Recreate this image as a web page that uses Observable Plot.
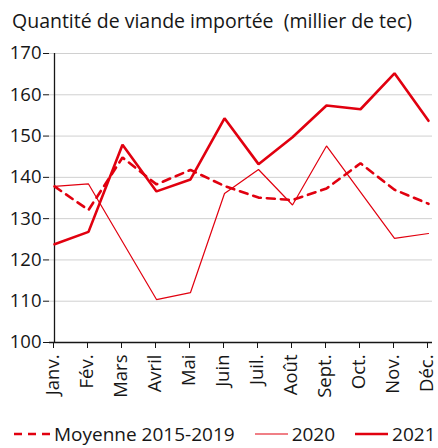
<!DOCTYPE html>
<html>
<head>
<meta charset="utf-8">
<script src="https://cdn.jsdelivr.net/npm/d3@7"></script>
<script src="https://cdn.jsdelivr.net/npm/@observablehq/plot@0.6"></script>
<style>
  html, body { margin: 0; padding: 0; background: #fff; }
  body { width: 438px; height: 448px; overflow: hidden; font-family: "Open Sans", sans-serif; color: #161616; }
  #title { height: 40px; font-size: 19.5px; line-height: 22px; padding: 10px 0 0 12px; box-sizing: border-box; white-space: pre; }
  #legend { display: flex; align-items: center; font-size: 19px; height: 33px; padding: 5px 0 0 14px; box-sizing: border-box; white-space: nowrap; }
  #legend .item { display: flex; align-items: center; margin-right: 20px; }
  #legend svg { margin-right: 4px; }
</style>
</head>
<body>
<div id="title">Quantité de viande importée  (millier de tec)</div>
<div id="chart"></div>
<div id="legend"></div>
<script>
const months = ["Janv.","Fév.","Mars","Avril","Mai","Juin","Juil.","Août","Sept.","Oct.","Nov.","Déc."];
const moyenne = [137.8,132.1,144.8,138.3,141.8,137.9,135.1,134.5,137.3,143.4,137.0,133.6];
const y2020 = [137.8,138.4,124.4,110.4,112.1,136.1,141.9,133.3,147.6,136.4,125.2,126.4];
const y2021 = [123.8,126.8,147.9,136.6,139.5,154.3,143.2,149.7,157.4,156.5,165.2,153.7];
const yTicks = [100,110,120,130,140,150,160,170];
const seriesNames = ["Moyenne 2015-2019","2020","2021"];

const red = "#e1000f";
const toRows = (vals, s) => months.map((m, i) => ({month: m, value: vals[i], serie: s}));
const rMoy = toRows(moyenne, seriesNames[0]);
const r2020 = toRows(y2020, seriesNames[1]);
const r2021 = toRows(y2021, seriesNames[2]);

const chart = Plot.plot({
  width: 438,
  height: 375,
  marginLeft: 49,
  marginRight: 6,
  marginTop: 13,
  marginBottom: 73,
  style: {fontFamily: "Open Sans, sans-serif", fontSize: "18px", color: "#161616", background: "#fff"},
  x: {type: "point", domain: months, padding: 0, label: null},
  y: {domain: [100, 170], label: null},
  marks: [
    Plot.gridY(yTicks, {stroke: "#d0d0d0", strokeOpacity: 1, strokeWidth: 1}),
    Plot.axisY(yTicks, {tickSize: 6, tickPadding: 2, fontSize: 18.5, stroke: "#161616", label: null}),
    Plot.axisX({tickRotate: -90, tickSize: 6, tickPadding: 6, fontSize: 18.5, dx: -1, stroke: "#161616", label: null}),
    Plot.ruleX([months[0]], {stroke: "#161616", strokeWidth: 1.3}),
    Plot.ruleY([100], {stroke: "#161616", strokeWidth: 1.3}),
    Plot.line(r2020, {x: "month", y: "value", stroke: red, strokeWidth: 1.2, strokeLinejoin: "miter"}),
    Plot.line(rMoy, {x: "month", y: "value", stroke: red, strokeWidth: 2.6, strokeDasharray: "8,6", strokeLinejoin: "miter"}),
    Plot.line(r2021, {x: "month", y: "value", stroke: red, strokeWidth: 2.6, strokeLinejoin: "miter"})
  ]
});
document.getElementById("chart").appendChild(chart);

const legend = document.getElementById("legend");
const swatches = [
  {w: 36, sw: 2.6, dash: "8,6"},
  {w: 33, sw: 1.2, dash: null},
  {w: 33, sw: 2.6, dash: null}
];
seriesNames.forEach((name, i) => {
  const item = document.createElement("div");
  item.className = "item";
  const s = swatches[i];
  item.innerHTML = `<svg width="${s.w}" height="10"><line x1="0" y1="5" x2="${s.w}" y2="5" stroke="${red}" stroke-width="${s.sw}" ${s.dash ? `stroke-dasharray="${s.dash}"` : ""}/></svg><span>${name}</span>`;
  legend.appendChild(item);
});
</script>
</body>
</html>
